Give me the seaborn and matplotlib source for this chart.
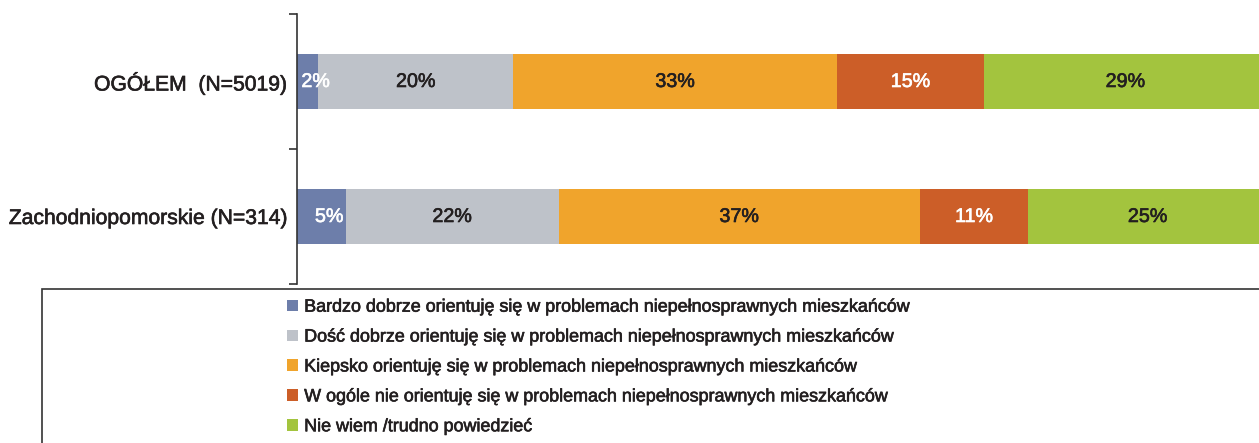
import matplotlib
matplotlib.use("Agg")
import matplotlib.pyplot as plt
from matplotlib.patches import Patch, Rectangle
import matplotlib.patheffects as pe
import matplotlib.transforms as mtransforms
import seaborn as sns
import pandas as pd
import numpy as np

categories = ["OGÓŁEM  (N=5019)", "Zachodniopomorskie (N=314)"]
series_names = [
    "Bardzo dobrze orientuję się w problemach niepełnosprawnych mieszkańców",
    "Dość dobrze orientuję się w problemach niepełnosprawnych mieszkańców",
    "Kiepsko orientuję się w problemach niepełnosprawnych mieszkańców",
    "W ogóle nie orientuję się w problemach niepełnosprawnych mieszkańców",
    "Nie wiem /trudno powiedzieć",
]
bardzo = [2.2, 5.0]
dosc = [20.1, 22.0]
kiepsko = [33.4, 37.2]
wogole = [15.1, 11.2]
niewiem = [29.2, 24.6]
colors = ["#6D7EAA", "#BEC2C9", "#F0A42C", "#CC5E28", "#A3C43E"]
label_colors = ["white", "#231F20", "#231F20", "white", "#231F20"]

sns.set_theme(style="white")
plt.rcParams["font.family"] = ["Liberation Sans", "DejaVu Sans"]
TXT = "#231F20"

def heavy(c, w=0.45):
    return [pe.withStroke(linewidth=w, foreground=c)]

series = [bardzo, dosc, kiepsko, wogole, niewiem]
vals = np.array(series)  # shape (5, 2)
cum = np.cumsum(vals, axis=0)

fig = plt.figure(figsize=(12.59, 4.43), dpi=100)
ax = fig.add_axes([297 / 1259, (443 - 284) / 443, 970 / 1259, 270 / 443])

# draw stacked bars: largest cumulative first, overlay smaller ones
for i in range(len(series) - 1, -1, -1):
    df = pd.DataFrame({"cat": categories, "val": cum[i]})
    sns.barplot(data=df, y="cat", x="val", orient="h", color=colors[i],
                width=0.41, saturation=1, ax=ax, edgecolor="none", linewidth=0)

shift = mtransforms.offset_copy(ax.transData, fig=fig, x=8, y=0, units="dots")
for i in range(len(series)):
    for j in range(len(categories)):
        v = vals[i, j]
        center = cum[i, j] - v / 2
        ax.text(center, j, f"{v:.0f}%", ha="center", va="center",
                color=label_colors[i], fontsize=14.2,
                transform=shift if i == 0 else ax.transData,
                path_effects=heavy(label_colors[i]))

ax.set_xlim(0, 100)
ax.set_ylim(1.5, -0.5)
ax.set_xlabel("")
ax.set_ylabel("")
ax.set_xticks([])
ax.set_yticks([0, 1])
ax.set_yticklabels(categories, fontsize=15.2, color=TXT)
for t in ax.get_yticklabels():
    t.set_path_effects(heavy(TXT))
ax.set_yticks([-0.5, 0.5, 1.5], minor=True)
ax.tick_params(axis="y", which="major", length=0, pad=7)
ax.tick_params(axis="y", which="minor", left=True, length=6, width=1.2, color="#333333")
for s in ["top", "right", "bottom"]:
    ax.spines[s].set_visible(False)
ax.spines["left"].set_color("#333333")
ax.spines["left"].set_linewidth(1.2)

# legend box
fig.patches.append(Rectangle((42 / 1259, -0.1), 1.2, (443 - 289) / 443 + 0.1,
                             transform=fig.transFigure, fill=False,
                             edgecolor="#333333", linewidth=1.2))
handles = [Patch(facecolor=c, edgecolor="none") for c in colors]
leg = fig.legend(handles, series_names, loc="upper left",
                 bbox_to_anchor=(280 / 1259, (443 - 291.5) / 443), frameon=False,
                 fontsize=12.9, handlelength=0.6, handleheight=0.6, handletextpad=0.35,
                 labelspacing=0.72, labelcolor=TXT, borderaxespad=0)
for t in leg.get_texts():
    t.set_path_effects(heavy(TXT))

fig.savefig("out.png", dpi=100)
